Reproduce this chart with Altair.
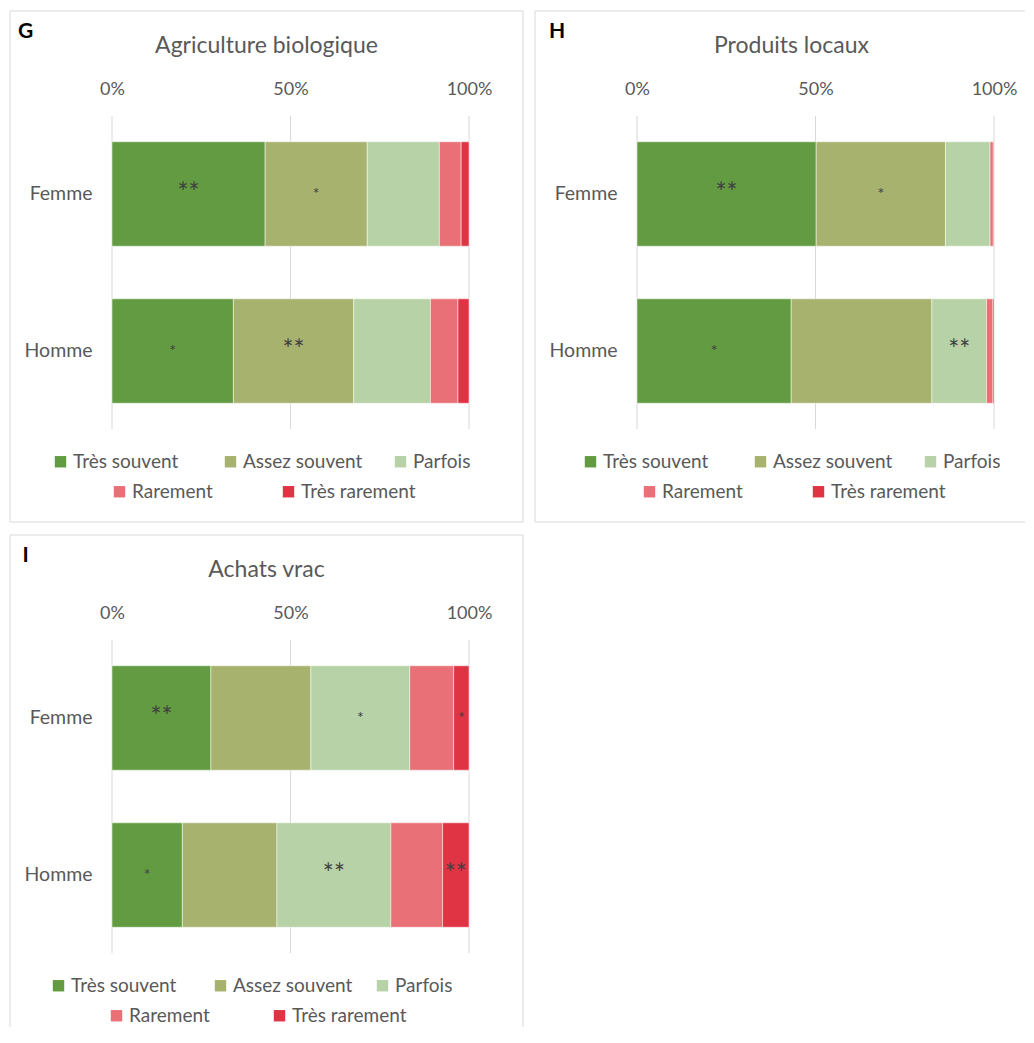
import altair as alt
import pandas as pd

categories = ["Très souvent", "Assez souvent", "Parfois", "Rarement", "Très rarement"]
colors = ["#629B41", "#A7B26E", "#B6D2A6", "#E87076", "#E03444"]
genders = ["Femme", "Homme"]
tick_values = [0, 50, 100]

letters = ["G", "H", "I"]
titles = ["Agriculture biologique", "Produits locaux", "Achats vrac"]

g_femme = [42.9, 28.6, 20.2, 6.1, 2.2]
g_homme = [34.0, 33.7, 21.5, 7.7, 3.1]
h_femme = [50.2, 36.2, 12.5, 0.9, 0.2]
h_homme = [43.2, 39.4, 15.3, 1.8, 0.3]
i_femme = [27.7, 28.0, 27.7, 12.3, 4.3]
i_homme = [19.7, 26.5, 31.9, 14.5, 7.4]

g_femme_sig = ["**", "*", "", "", ""]
g_homme_sig = ["*", "**", "", "", ""]
h_femme_sig = ["**", "*", "", "", ""]
h_homme_sig = ["*", "", "**", "", ""]
i_femme_sig = ["**", "", "*", "", "*"]
i_homme_sig = ["*", "", "**", "", "**"]

FONT = "Lato"
GREY = "#595959"
LINE = "#d9d9d9"


def panel(letter, title, femme, homme, sig_f, sig_h, W, H, letter_x,
          leg1, leg2, pad1, pad2, sides):
    rows = []
    for g, vals, sig in ((genders[0], femme, sig_f), (genders[1], homme, sig_h)):
        for k, (c, v, s) in enumerate(zip(categories, vals, sig)):
            rows.append({"sexe": g, "cat": c, "ord": k, "val": v, "sig": s})
    df = pd.DataFrame(rows)

    xs = alt.Scale(domain=[0, 100], range=[102, 459], nice=False, zero=False)
    ys = alt.Scale(domain=genders, range=[105, 418], paddingInner=0.335, paddingOuter=0.164)
    xaxis = alt.Axis(orient="top", values=tick_values, labelExpr="datum.value + '%'",
                     grid=False, domain=False, ticks=False, tickSize=0, offset=-87,
                     labelPadding=0, labelFlush=False, labelFont=FONT, labelFontSize=18,
                     labelColor=GREY, title=None)
    yaxis = alt.Axis(orient="left", domain=False, ticks=False, tickSize=0, offset=-82,
                     labelPadding=0, labelFont=FONT, labelFontSize=19.5, labelColor=GREY,
                     title=None, grid=False)

    base = alt.Chart(df).transform_stack(
        stack="val", groupby=["sexe"],
        sort=[alt.SortField("ord", order="ascending")], as_=["x0", "x1"])
    enc = dict(x=alt.X("x0:Q", scale=xs, axis=xaxis), x2="x1:Q",
               y=alt.Y("sexe:N", scale=ys, axis=yaxis))

    leg_common = dict(orient="none", direction="horizontal", title=None,
                      symbolType="square", symbolSize=130, symbolStrokeWidth=0,
                      labelFont=FONT, labelFontSize=19, labelColor=GREY,
                      labelOffset=3, gridAlign="all", padding=0)

    bars1 = base.transform_filter("datum.ord < 3").mark_bar(
        stroke="white", strokeWidth=0.5).encode(
        color=alt.Color("cat:N", sort=categories[:3],
                        scale=alt.Scale(domain=categories[:3], range=colors[:3]),
                        legend=alt.Legend(legendX=leg1[0], legendY=leg1[1],
                                          columnPadding=pad1, **leg_common)),
        **enc)
    bars2 = base.transform_filter("datum.ord >= 3").mark_bar(
        stroke="white", strokeWidth=0.5).encode(
        fill=alt.Fill("cat:N", sort=categories[3:],
                      scale=alt.Scale(domain=categories[3:], range=colors[3:]),
                      legend=alt.Legend(legendX=leg2[0], legendY=leg2[1],
                                        columnPadding=pad2, **leg_common)),
        **enc)

    stars = base.transform_filter("datum.sig != ''").transform_calculate(
        xm="(datum.x0 + datum.x1) / 2",
        fs="length(datum.sig) > 1 ? 26 : 16").mark_text(
        font=FONT, color="#404040", baseline="middle", align="center").encode(
        x=alt.X("xm:Q", scale=xs, axis=xaxis),
        y=alt.Y("sexe:N", scale=ys, axis=yaxis),
        text="sig:N",
        size=alt.Size("fs:Q", scale=None, legend=None))

    grid = alt.Chart(pd.DataFrame({"t": tick_values})).mark_rule(
        color=LINE, strokeWidth=1).encode(
        x=alt.X("t:Q", scale=xs, axis=xaxis), y=alt.value(105), y2=alt.value(418))

    one = alt.Data(values=[{}])
    letter_t = alt.Chart(one).mark_text(
        text=letter, font=FONT, fontSize=21, fontWeight="bold", color="black",
        align="center", baseline="middle").encode(x=alt.value(letter_x), y=alt.value(21))
    title_t = alt.Chart(one).mark_text(
        text=title, font=FONT, fontSize=23, color=GREY, align="center",
        baseline="alphabetic").encode(x=alt.value(256.5), y=alt.value(42))

    borders = []
    if "top" in sides:
        borders.append(alt.Chart(one).mark_rule(color=LINE, strokeWidth=1).encode(
            x=alt.value(0), x2=alt.value(W), y=alt.value(0)))
    if "bottom" in sides:
        borders.append(alt.Chart(one).mark_rule(color=LINE, strokeWidth=1).encode(
            x=alt.value(0), x2=alt.value(W), y=alt.value(H)))
    if "left" in sides:
        borders.append(alt.Chart(one).mark_rule(color=LINE, strokeWidth=1).encode(
            x=alt.value(0), y=alt.value(0), y2=alt.value(H)))
    if "right" in sides:
        borders.append(alt.Chart(one).mark_rule(color=LINE, strokeWidth=1).encode(
            x=alt.value(W), y=alt.value(0), y2=alt.value(H)))

    return alt.layer(grid, bars1, bars2, stars, letter_t, title_t, *borders).properties(
        width=W, height=H)


pG = panel(letters[0], titles[0], g_femme, g_homme, g_femme_sig, g_homme_sig,
           513, 511, 15.5, (41, 441), (100, 471), 28, 32, ["top", "bottom", "left", "right"])
pH = panel(letters[1], titles[1], h_femme, h_homme, h_femme_sig, h_homme_sig,
           490, 511, 22, (46, 441), (105, 471), 28, 32, ["top", "bottom", "left"])
pI = panel(letters[2], titles[2], i_femme, i_homme, i_femme_sig, i_homme_sig,
           513, 492, 15.5, (39, 441), (97, 471), 20, 26, ["top", "left", "right"])

top = alt.hconcat(pG, pH, spacing=10).resolve_scale(
    color="independent", fill="independent").resolve_legend(
    color="independent", fill="independent")

chart = alt.vconcat(top, pI, spacing=11).resolve_scale(
    color="independent", fill="independent").resolve_legend(
    color="independent", fill="independent").properties(
    padding={"left": 1, "top": 2, "right": 0, "bottom": 0}).configure_view(
    stroke="transparent")

chart.save("out.html", embed_options={"renderer": "svg", "actions": False})
